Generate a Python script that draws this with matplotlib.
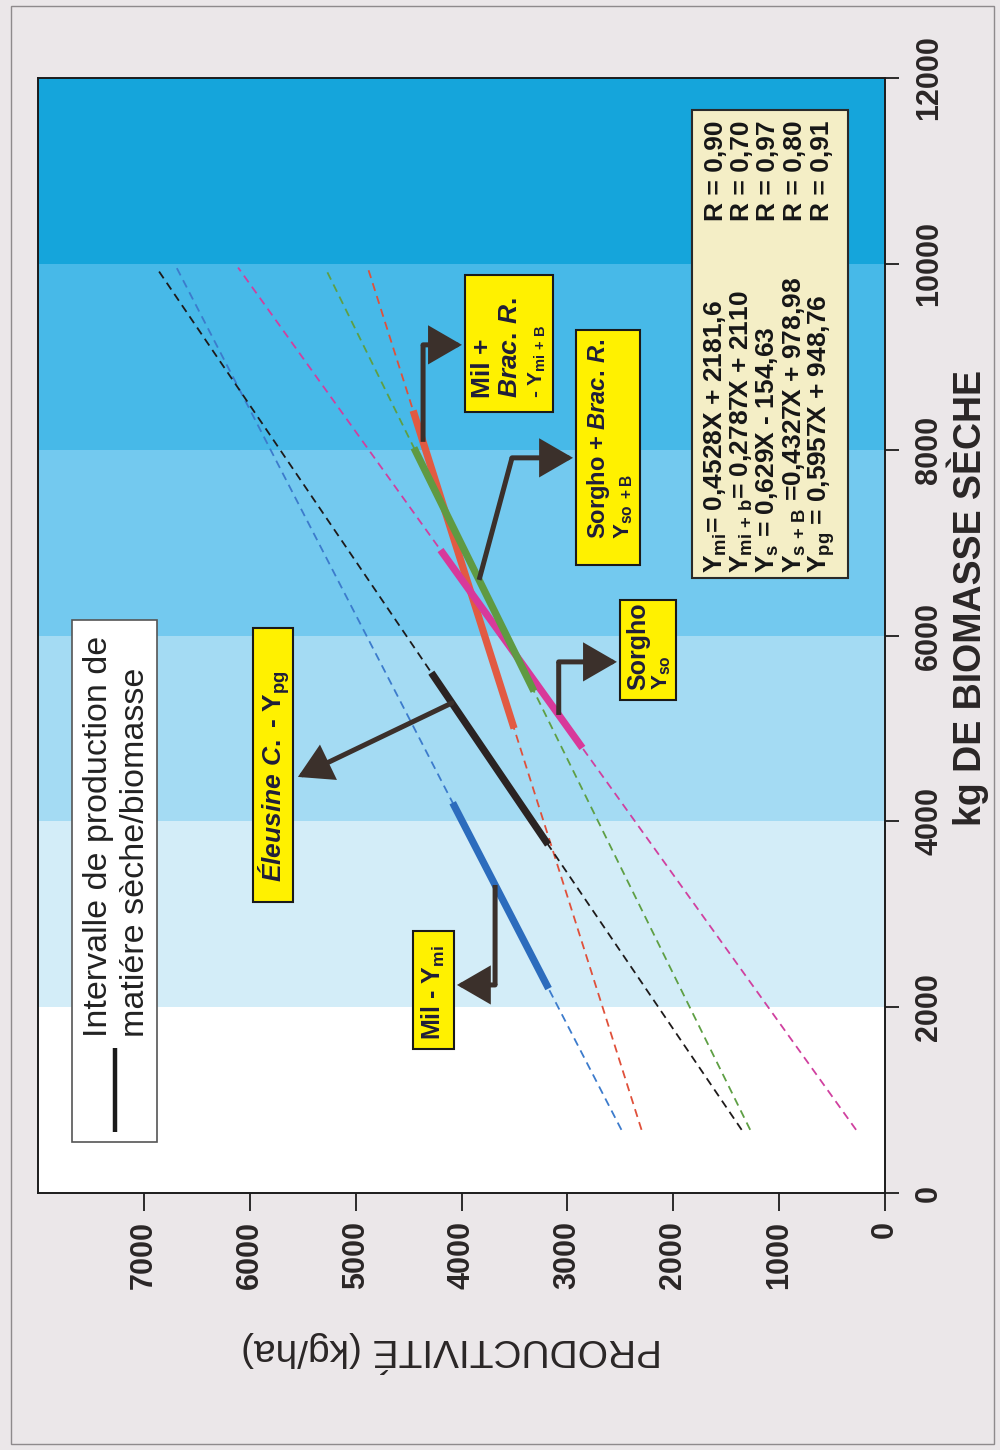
import matplotlib
matplotlib.use("Agg")
import matplotlib.pyplot as plt
from matplotlib.patches import Rectangle
import numpy as np

plt.rcParams["font.family"] = ["Liberation Sans", "DejaVu Sans"]
plt.rcParams["mathtext.fontset"] = "custom"
plt.rcParams["mathtext.default"] = "regular"
plt.rcParams["mathtext.rm"] = "Liberation Sans:bold"
plt.rcParams["mathtext.bf"] = "Liberation Sans:bold"
plt.rcParams["mathtext.it"] = "Liberation Sans:italic:bold"

# ---------------------------------------------------------------- data
# Linear fits: productivity (kg/ha) = slope * biomass + intercept
crops = ["Mil", "Mil + Brac. R.", "Sorgho", "Sorgho + Brac. R.", "Eleusine C."]
eq_subscripts = [r"mi", r"mi\,+\,b", r"s", r"s\,+\,B", r"pg"]
slope_txt = ["0,4528", "0,2787", "0,629", "0,4327", "0,5957"]
intercept_txt = ["+ 2181,6", "+ 2110", "- 154,63", "+ 978,98", "+ 948,76"]
eq_sep = ["= ", "= ", " = ", " =", " = "]
r_txt = ["0,90", "0,70", "0,97", "0,80", "0,91"]

slopes = [float(s.replace(",", ".")) for s in slope_txt]
intercepts = [float(s.replace(" ", "").replace(",", ".")) for s in intercept_txt]

# observed biomass interval for each crop (kg dry matter)
solid_from = [2200, 5000, 4790, 5400, 3750]
solid_to = [4200, 8420, 6920, 8020, 5600]
# extent of the extrapolated fit
fit_from = 680
fit_to = 9960

band_edges = [0, 2000, 4000, 6000, 8000, 10000, 12000]
biomass_ticks = [0, 2000, 4000, 6000, 8000, 10000, 12000]
prod_ticks = [0, 1000, 2000, 3000, 4000, 5000, 6000, 7000]

# ---------------------------------------------------------------- style
band_colors = ["#ffffff", "#d3edf8", "#a4dbf3", "#73c9ef", "#47b9e8", "#15a5db"]
solid_colors = ["#2c6cbd", "#e25a42", "#d8399a", "#5f9a42", "#2a2322"]
dash_colors = ["#3c7bcc", "#e0503a", "#d0409f", "#5e9f44", "#1e1a1a"]
page_color = "#ebe7e9"
ink = "#2a2626"
callout_ink = "#1f1d3a"
arrow_color = "#3b302b"

fig = plt.figure(figsize=(10, 14.5), dpi=100, facecolor=page_color)
ax = fig.add_axes([0.038, 1 - 1193 / 1450, 0.847, 1115 / 1450])

# biomass runs along the vertical axis, productivity grows to the left
ax.set_xlim(8000, 0)
ax.set_ylim(0, 12000)

for lo, hi, c in zip(band_edges[:-1], band_edges[1:], band_colors):
    ax.axhspan(lo, hi, color=c, lw=0, zorder=0)

for k in range(len(crops)):
    b = np.array([fit_from, fit_to])
    ax.plot(slopes[k] * b + intercepts[k], b, color=dash_colors[k], lw=1.3,
            ls=(0, (4.5, 3.0)), zorder=2)
for k in range(len(crops)):
    b = np.array([solid_from[k], solid_to[k]])
    ax.plot(slopes[k] * b + intercepts[k], b, color=solid_colors[k], lw=5.2,
            solid_capstyle="butt", zorder=3)

# axes decoration
for side in ["left", "top", "right", "bottom"]:
    ax.spines[side].set_linewidth(1.4)
    ax.spines[side].set_color("#1c1c1c")
ax.set_xticks(prod_ticks)
ax.set_xticklabels([str(t) for t in prod_ticks])
ax.set_yticks(biomass_ticks)
ax.set_yticklabels([str(t) for t in biomass_ticks])
ax.yaxis.tick_right()
ax.tick_params(axis="x", direction="out", length=13, width=1.3, pad=7,
               labelsize=22, labelrotation=90, colors="#1c1c1c", labelcolor=ink)
ax.tick_params(axis="y", direction="out", length=10, width=1.3, pad=11,
               labelsize=22, labelrotation=90, colors="#1c1c1c", labelcolor=ink)
for lab in ax.get_xticklabels() + ax.get_yticklabels():
    lab.set_fontweight("bold")
for lab in ax.get_yticklabels():
    lab.set_va("center")

# arrows pointing from the fitted segments to their labels
def on_fit(k, b):
    return (slopes[k] * b + intercepts[k], b)

arrow_paths = [
    [on_fit(0, 3315), (3683, 2239), (4043, 2239)],
    [on_fit(4, 5274), (5545, 4478)],
    [on_fit(2, 5145), (3082, 5716), (2532, 5716)],
    [on_fit(3, 6598), (3523, 7912), (2947, 7912)],
    [on_fit(1, 8084), (4363, 9128), (3996, 9128)],
]
for path in arrow_paths:
    if len(path) > 2:
        xs = [p[0] for p in path[:-1]]
        ys = [p[1] for p in path[:-1]]
        ax.plot(xs, ys, color=arrow_color, lw=3.6, solid_joinstyle="miter",
                solid_capstyle="butt", zorder=5)
    ax.annotate("", xy=path[-1], xytext=path[-2], zorder=5,
                arrowprops=dict(arrowstyle="-|>,head_length=0.95,head_width=0.55",
                                mutation_scale=20, lw=3.6, color=arrow_color,
                                shrinkA=0, shrinkB=0, joinstyle="miter"))

# ---------------------------------------------------------------- overlay in pixel units
ov = fig.add_axes([0, 0, 1, 1], facecolor="none")
ov.set_xlim(0, 1000)
ov.set_ylim(1450, 0)
ov.axis("off")

def box(x0, y0, x1, y1, fc, ec="#1a1a1a", lw=1.5):
    ov.add_patch(Rectangle((x0, y0), x1 - x0, y1 - y0, facecolor=fc,
                           edgecolor=ec, lw=lw, zorder=4))

def vtext(x, y, s, size, color, weight="bold", **kw):
    ov.text(x, y, s, rotation=90, rotation_mode="anchor", ha="left",
            va="center", fontsize=size, color=color, fontweight=weight,
            zorder=6, **kw)

# page frame
ov.add_patch(Rectangle((11, 6), 983, 1438, facecolor="none",
                       edgecolor="#8e8a8c", lw=1.0, zorder=1))

# legend
box(72, 620, 157, 1142, "#ffffff", ec="#555555", lw=1.2)
ov.plot([115, 115], [1048, 1132], color="#1a1a1a", lw=3.2, zorder=6,
        solid_capstyle="butt")
vtext(98, 1037, "Intervalle de production de", 24.5, "#222222", weight="normal")
vtext(135, 1037, "matiére sèche/biomasse", 24.5, "#222222", weight="normal")

# regression equations
box(692, 110, 848, 578, "#f4eec6", ec="#2a2a2a", lw=1.5)
row_x = [716, 742, 768, 795, 822]
for k in range(len(crops)):
    eq = ("Y$_{" + eq_subscripts[k] + "}$" + eq_sep[k] + slope_txt[k] + "X "
          + intercept_txt[k])
    vtext(row_x[k], 573, eq, 19, "#161616")
    vtext(row_x[k], 221, "R = " + r_txt[k], 19, "#161616")

# crop callouts
yellow = "#fff100"
box(465, 275, 553, 412, yellow)
vtext(483, 398, "Mil +", 19, callout_ink)
vtext(510, 398, r"$\mathit{Brac.\,R.}$", 19, callout_ink)
vtext(537, 398, r"- Y$_{mi\,+\,B}$", 15, callout_ink)

box(576, 330, 640, 565, yellow)
vtext(599, 539, r"Sorgho + $\mathit{Brac.\,R.}$", 17, callout_ink)
vtext(624, 539, r"Y$_{so\ +B}$", 16, callout_ink)

box(620, 600, 676, 700, yellow)
vtext(638, 690, "Sorgho", 18, callout_ink)
vtext(662, 690, r"Y$_{so}$", 16, callout_ink)

box(253, 628, 293, 902, yellow)
vtext(274, 882, r"$\mathit{Éleusine\ C.}$ - Y$_{pg}$", 19, callout_ink)

box(413, 931, 454, 1049, yellow)
vtext(433, 1040, r"Mil - Y$_{mi}$", 18, callout_ink)

# axis titles
ov.text(452, 1352, "PRODUCTIVITÉ (kg/ha)", rotation=180, ha="center",
        va="center", fontsize=28, color=ink)
ov.text(968, 598, "kg DE BIOMASSE SÈCHE", rotation=90, ha="center",
        va="center", fontsize=27, fontweight="bold", color=ink)

fig.savefig("out.png", dpi=100, facecolor=page_color)
